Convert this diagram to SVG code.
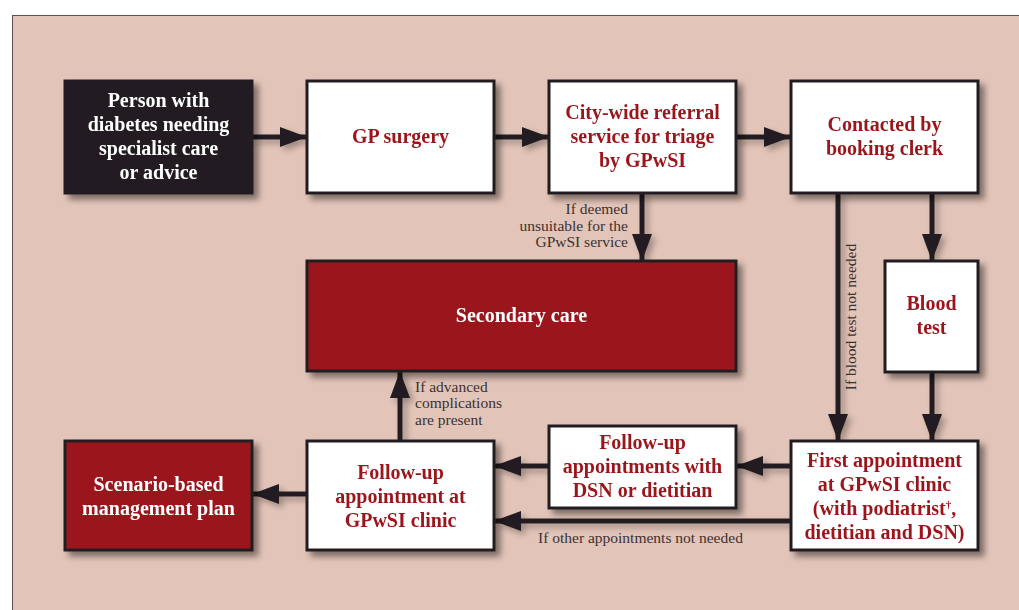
<svg xmlns="http://www.w3.org/2000/svg" width="1019" height="610" viewBox="0 0 1019 610">
<defs>
<filter id="sh" x="-20%" y="-20%" width="150%" height="150%">
<feDropShadow dx="5" dy="5" stdDeviation="3" flood-color="#000" flood-opacity="0.45"/>
</filter>
<filter id="tsh" x="-20%" y="-20%" width="150%" height="150%">
<feDropShadow dx="4" dy="4" stdDeviation="3" flood-color="#000" flood-opacity="0.3"/>
</filter>
<marker id="ah" viewBox="0 0 27 20" refX="26" refY="10" markerWidth="5.4" markerHeight="4" orient="auto" markerUnits="strokeWidth">
<path d="M0,0 L27,10 L0,20 Z" fill="#231f20"/>
</marker>
<style>
.box{stroke:#231f20;stroke-width:3}
.w{fill:#ffffff}
.k{fill:#231f20}
.r{fill:#9a161b}
.t{font-family:"Liberation Serif",serif;font-weight:bold;font-size:20px;text-anchor:middle}
.tr{fill:#9a161b}
.tw{fill:#ffffff}
.c{stroke:#231f20;stroke-width:5;fill:none;marker-end:url(#ah)}
.lbl{font-family:"Liberation Serif",serif;font-size:15.5px;fill:#3a3232}
</style>
</defs>
<rect x="0" y="0" width="1019" height="610" fill="#ffffff"/>
<rect x="12.5" y="15.5" width="1020" height="610" fill="#e3c4b8" stroke="#5a5050" stroke-width="1"/>

<g id="connectors" filter="url(#tsh)">
<line class="c" x1="252" y1="137" x2="306" y2="137"/>
<line class="c" x1="494" y1="137" x2="548" y2="137"/>
<line class="c" x1="736" y1="137" x2="790" y2="137"/>
<line class="c" x1="642" y1="193" x2="642" y2="260"/>
<line class="c" x1="932" y1="193" x2="932" y2="260"/>
<line class="c" x1="932" y1="372" x2="932" y2="440"/>
<line class="c" x1="838" y1="193" x2="838" y2="440"/>
<line class="c" x1="791" y1="466" x2="737" y2="466"/>
<line class="c" x1="549" y1="466" x2="495" y2="466"/>
<line class="c" x1="791" y1="521" x2="495" y2="521"/>
<line class="c" x1="400" y1="441" x2="400" y2="372"/>
<line class="c" x1="307" y1="494" x2="253" y2="494"/>
</g>

<g id="labels">
<text class="lbl" text-anchor="end"><tspan x="628" y="214">If deemed</tspan><tspan x="628" y="231">unsuitable for the</tspan><tspan x="628" y="247">GPwSI service</tspan></text>
<text class="lbl" text-anchor="start"><tspan x="415" y="392">If advanced</tspan><tspan x="415" y="408">complications</tspan><tspan x="415" y="425">are present</tspan></text>
<text class="lbl" x="538" y="543">If other appointments not needed</text>
<text class="lbl" transform="translate(856,317) rotate(-90)" text-anchor="middle">If blood test not needed</text>
</g>

<g id="person" filter="url(#sh)">
<rect class="box k" x="65" y="81" width="187" height="112"/>
<text class="t tw"><tspan x="158.5" y="107">Person with</tspan><tspan x="158.5" y="131">diabetes needing</tspan><tspan x="158.5" y="155">specialist care</tspan><tspan x="158.5" y="179">or advice</tspan></text>
</g>
<g id="gp-surgery" filter="url(#sh)">
<rect class="box w" x="307" y="81" width="187" height="112"/>
<text class="t tr" x="400.5" y="143">GP surgery</text>
</g>
<g id="city-wide" filter="url(#sh)">
<rect class="box w" x="549" y="81" width="187" height="112"/>
<text class="t tr"><tspan x="642.5" y="119">City-wide referral</tspan><tspan x="642.5" y="143">service for triage</tspan><tspan x="642.5" y="167">by GPwSI</tspan></text>
</g>
<g id="booking-clerk" filter="url(#sh)">
<rect class="box w" x="791" y="81" width="187" height="112"/>
<text class="t tr"><tspan x="884.5" y="131">Contacted by</tspan><tspan x="884.5" y="155">booking clerk</tspan></text>
</g>
<g id="secondary-care" filter="url(#sh)">
<rect class="box r" x="307" y="261" width="429" height="110"/>
<text class="t tw" x="521.5" y="322">Secondary care</text>
</g>
<g id="blood-test" filter="url(#sh)">
<rect class="box w" x="885" y="261" width="93" height="111"/>
<text class="t tr"><tspan x="931.5" y="310">Blood</tspan><tspan x="931.5" y="334">test</tspan></text>
</g>
<g id="first-appointment" filter="url(#sh)">
<rect class="box w" x="791" y="441" width="187" height="109"/>
<text class="t tr"><tspan x="884.5" y="467">First appointment</tspan><tspan x="884.5" y="491">at GPwSI clinic</tspan><tspan x="884.5" y="515">(with podiatrist<tspan font-size="11" dy="-7">†</tspan><tspan dy="7">,</tspan></tspan><tspan x="884.5" y="539">dietitian and DSN)</tspan></text>
</g>
<g id="followup-dsn" filter="url(#sh)">
<rect class="box w" x="549" y="426" width="187" height="82"/>
<text class="t tr"><tspan x="642.5" y="449">Follow-up</tspan><tspan x="642.5" y="473">appointments with</tspan><tspan x="642.5" y="497">DSN or dietitian</tspan></text>
</g>
<g id="followup-gpwsi" filter="url(#sh)">
<rect class="box w" x="307" y="441" width="187" height="109"/>
<text class="t tr"><tspan x="400.5" y="479">Follow-up</tspan><tspan x="400.5" y="503">appointment at</tspan><tspan x="400.5" y="527">GPwSI clinic</tspan></text>
</g>
<g id="scenario-plan" filter="url(#sh)">
<rect class="box r" x="65" y="441" width="187" height="109"/>
<text class="t tw"><tspan x="158.5" y="491">Scenario-based</tspan><tspan x="158.5" y="515">management plan</tspan></text>
</g>
</svg>
